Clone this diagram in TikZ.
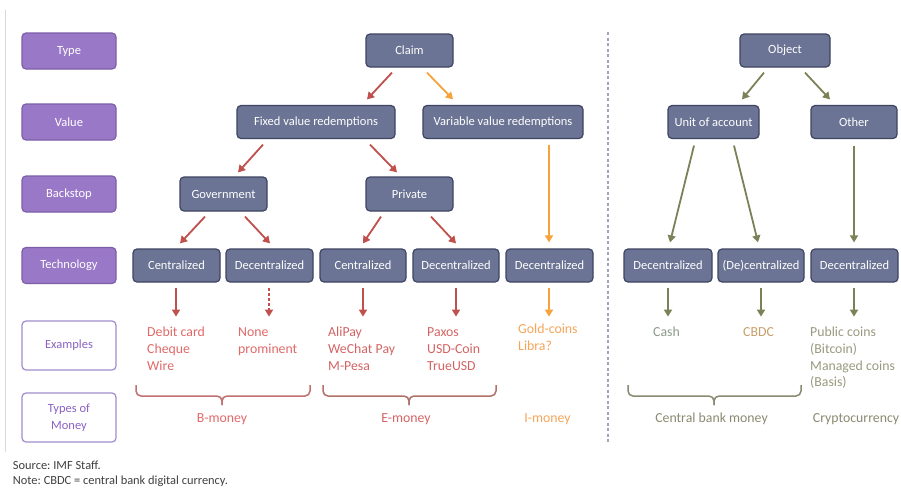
\documentclass[tikz,border=0pt]{standalone}
\usepackage{fontspec}
\setmainfont{Carlito}
\usetikzlibrary{arrows.meta,calc}
\frenchspacing
\newcommand\myfs[2]{\fontsize{#1pt}{#2pt}\selectfont}
\newcommand\exstrut{\rule{0pt}{11pt}}
\definecolor{lblfill}{HTML}{9A78C8}
\definecolor{lbldraw}{HTML}{7C5FA8}
\definecolor{lblwdraw}{HTML}{A08CCB}
\definecolor{lbltext}{HTML}{8A62C4}
\definecolor{gfill}{HTML}{6B7494}
\definecolor{gdraw}{HTML}{3E4560}
\definecolor{redarr}{HTML}{C0504D}
\definecolor{orarr}{HTML}{F5A33A}
\definecolor{olarr}{HTML}{7B8257}
\definecolor{redtxt}{HTML}{E06A68}
\definecolor{redtxtb}{HTML}{D46464}
\definecolor{ortxt}{HTML}{F5A55A}
\definecolor{cashtxt}{HTML}{8C9A8C}
\definecolor{cbdctxt}{HTML}{C9A06A}
\definecolor{cryptxt}{HTML}{9A9A80}
\definecolor{bracered}{HTML}{C07070}
\definecolor{bracebrown}{HTML}{B07268}
\definecolor{braceol}{HTML}{8A8A72}
\definecolor{sepcol}{HTML}{A0A4C0}
\definecolor{notetxt}{HTML}{404040}
\tikzset{
  lbl/.style={draw=lbldraw, fill=lblfill, line width=1.2pt, rounded corners=4pt,
    minimum width=94pt, minimum height=36pt, inner sep=0pt, text=white,
    font=\myfs{12.5}{15}, align=center},
  lblw/.style={lbl, fill=white, draw=lblwdraw, text=lbltext, minimum height=49pt,
    font=\myfs{12.5}{17}},
  gbox/.style={draw=gdraw, fill=gfill, line width=1.2pt, rounded corners=4pt,
    minimum height=33pt, inner sep=0pt, text=white, font=\myfs{12.5}{15}},
  arr/.style={-{Triangle[width=8pt,length=7pt]}, line width=1.8pt},
  ex/.style={anchor=north west, inner sep=0pt, align=left, font=\myfs{13.8}{16.9}},
  mtype/.style={anchor=base, inner sep=0pt, font=\myfs{13.8}{16.9}},
  bracepath/.style={line width=1.5pt, rounded corners=5pt},
  note/.style={anchor=base west, inner sep=0pt, text=notetxt, font=\myfs{12.4}{15}}
}
\begin{document}
\begin{tikzpicture}[x=1pt,y=-1pt]
\useasboundingbox (0,0) rectangle (901,488);
\fill[white] (0,0) rectangle (901,488);
% frame line and separator
\draw[draw=black!15, line width=1pt] (5,10) -- (5,452);
\draw[sepcol, line width=1.3pt, dash pattern=on 3pt off 2.5pt] (608,32) -- (608,442);
% label boxes
\node[lbl] (ltype) at (69,51) {Type};
\node[lbl] (lvalue) at (69,122) {Value};
\node[lbl] (lback) at (69,194) {Backstop};
\node[lbl] (ltech) at (69,265.5) {Technology};
\node[lblw] (lex) at (69,345.5) {Examples};
\node[lblw] (ltom) at (69,417.5) {Types of\\Money};
% gray nodes
\node[gbox, minimum width=87pt] (claim) at (409.5,50.5) {Claim};
\node[gbox, minimum width=158pt] (fixed) at (316,122) {Fixed value redemptions};
\node[gbox, minimum width=160pt] (variable) at (503,122) {Variable value redemptions};
\node[gbox, minimum width=90pt] (object) at (785,50.5) {Object};
\node[gbox, minimum width=91pt] (unit) at (713.5,122) {Unit of account};
\node[gbox, minimum width=86pt] (other) at (854,122) {Other};
\node[gbox, minimum width=87pt, minimum height=34pt] (gov) at (223.5,194) {Government};
\node[gbox, minimum width=87pt, minimum height=34pt] (private) at (409.5,194) {Private};
\node[gbox, minimum width=87pt] (c1) at (176.5,265.5) {Centralized};
\node[gbox, minimum width=87pt] (d1) at (269.5,265.5) {Decentralized};
\node[gbox, minimum width=86pt] (c2) at (363,265.5) {Centralized};
\node[gbox, minimum width=86pt] (d2) at (456,265.5) {Decentralized};
\node[gbox, minimum width=87pt] (d3) at (549.5,265.5) {Decentralized};
\node[gbox, minimum width=88pt] (d4) at (668,265.5) {Decentralized};
\node[gbox, minimum width=86pt] (dc) at (761,265.5) {(De)centralized};
\node[gbox, minimum width=87pt] (d5) at (854.5,265.5) {Decentralized};
% tree arrows
\draw[arr, redarr] ([xshift=-17.5pt,yshift=-5pt]claim.south) -- ([xshift=51pt,yshift=5.5pt]fixed.north);
\draw[arr, orarr] ([xshift=17.5pt,yshift=-5pt]claim.south) -- ([xshift=-50pt,yshift=5.5pt]variable.north);
\draw[arr, redarr] ([xshift=-53pt,yshift=-5.5pt]fixed.south) -- ([xshift=14.5pt,yshift=4pt]gov.north);
\draw[arr, redarr] ([xshift=54pt,yshift=-5.5pt]fixed.south) -- ([xshift=-12.5pt,yshift=4pt]private.north);
\draw[arr, orarr] ([xshift=46pt,yshift=-5.5pt]variable.south) -- ([xshift=-0.5pt,yshift=6pt]d3.north);
\draw[arr, redarr] ([xshift=-18.5pt,yshift=-5pt]gov.south) -- ([xshift=3.5pt,yshift=5pt]c1.north);
\draw[arr, redarr] ([xshift=21.5pt,yshift=-5pt]gov.south) -- ([xshift=0.5pt,yshift=5pt]d1.north);
\draw[arr, redarr] ([xshift=-28.5pt,yshift=-5pt]private.south) -- ([yshift=5pt]c2.north);
\draw[arr, redarr] ([xshift=21.5pt,yshift=-5pt]private.south) -- ([yshift=5pt]d2.north);
\draw[arr, olarr] ([xshift=-21pt,yshift=-5pt]object.south) -- ([xshift=28.5pt,yshift=5.5pt]unit.north);
\draw[arr, olarr] ([xshift=20pt,yshift=-5pt]object.south) -- ([xshift=-24pt,yshift=5.5pt]other.north);
\draw[arr, olarr] ([xshift=-19.5pt,yshift=-6.5pt]unit.south) -- ([xshift=2pt,yshift=6pt]d4.north);
\draw[arr, olarr] ([xshift=20.5pt,yshift=-6.5pt]unit.south) -- ([xshift=-3pt,yshift=6pt]dc.north);
\draw[arr, olarr] ([yshift=-6.5pt]other.south) -- ([yshift=6pt]other.north |- d5.north);
% example arrows
\draw[arr, redarr] ([xshift=-0.5pt,yshift=-5pt]c1.south) -- ([xshift=-0.5pt,yshift=-34pt]c1.south);
\draw[arr, redarr, dash pattern=on 3pt off 2pt] ([xshift=-0.5pt,yshift=-5pt]d1.south) -- ([xshift=-0.5pt,yshift=-34pt]d1.south);
\draw[arr, redarr] ([yshift=-5pt]c2.south) -- ([yshift=-34pt]c2.south);
\draw[arr, redarr] ([yshift=-5pt]d2.south) -- ([yshift=-34pt]d2.south);
\draw[arr, orarr] ([xshift=-0.5pt,yshift=-5pt]d3.south) -- ([xshift=-0.5pt,yshift=-34pt]d3.south);
\draw[arr, olarr] ([yshift=-5pt]d4.south) -- ([yshift=-34pt]d4.south);
\draw[arr, olarr] ([yshift=-5pt]dc.south) -- ([yshift=-34pt]dc.south);
\draw[arr, olarr] ([xshift=-0.5pt,yshift=-5pt]d5.south) -- ([xshift=-0.5pt,yshift=-34pt]d5.south);
% examples
\node[ex, text=redtxt] (exb) at (147,325) {\exstrut Debit card\\Cheque\\Wire};
\node[ex, text=redtxt] (exn) at (238,325) {\exstrut None\\prominent};
\node[ex, text=redtxtb] (exa) at (328,325) {\exstrut AliPay\\WeChat Pay\\M-Pesa};
\node[ex, text=redtxtb] (exp) at (427,325) {\exstrut Paxos\\USD-Coin\\TrueUSD};
\node[ex, text=ortxt] (exg) at (518,322) {\exstrut Gold-coins\\Libra?};
\node[ex, text=cashtxt] (exc) at (653,325) {\exstrut Cash};
\node[ex, text=cbdctxt] (exd) at (743,325) {\exstrut CBDC};
\node[ex, text=cryptxt] (expc) at (810,325) {\exstrut Public coins\\(Bitcoin)\\Managed coins\\(Basis)};
% braces
\draw[bracepath, bracered] (136,385) |- (222,396) -- (222,405);
\draw[bracepath, bracered] (310,385) |- (222,396) -- (222,405);
\draw[bracepath, bracebrown] (323,385) |- (409,396) -- (409,405);
\draw[bracepath, bracebrown] (496,385) |- (409,396) -- (409,405);
\draw[bracepath, braceol] (628,385) |- (714,396) -- (714,405);
\draw[bracepath, braceol] (801,385) |- (714,396) -- (714,405);
% types of money
\node[mtype, text=redtxt] (tb) at (222,422) {B-money};
\node[mtype, text=redtxtb] (te) at (406,422) {E-money};
\node[mtype, text=ortxt] (ti) at (547.5,422) {I-money};
\node[mtype, text=braceol] (tc) at (711.5,422) {Central bank money};
\node[mtype, text=braceol] (tcr) at (856,422) {Cryptocurrency};
% notes
\node[note] (src) at (12.7,469) {Source: IMF Staff.};
\node[note] (nte) at (12.7,484) {Note: CBDC = central bank digital currency.};
\end{tikzpicture}
\end{document}
